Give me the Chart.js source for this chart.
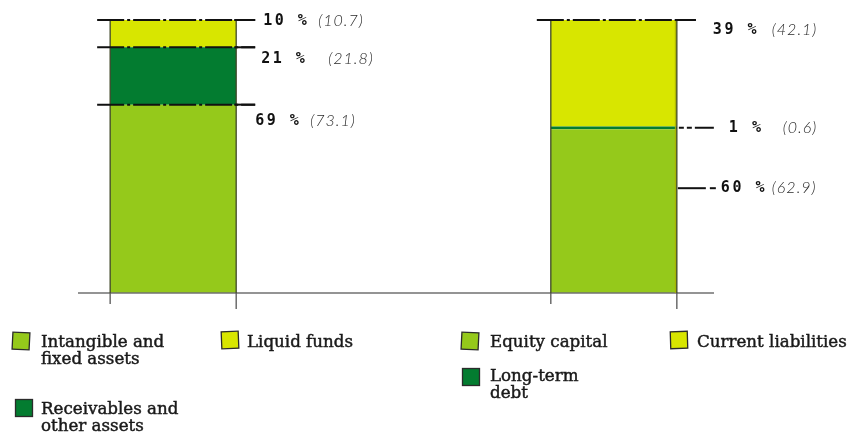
<!DOCTYPE html>
<html>
<head>
<meta charset="utf-8">
<script src="https://cdn.jsdelivr.net/npm/chart.js@4.4.1/dist/chart.umd.min.js"></script>
<style>
  html, body { margin: 0; padding: 0; background: #fff; }
  #wrap { position: relative; width: 859px; height: 433px; }
</style>
</head>
<body>
<div id="wrap"><canvas id="balance"></canvas></div>
<script>
// left column = assets, right column = equity and liabilities
// the empty middle category only keeps the gap between the two columns
const categories = ['Assets', '', 'Equity and liabilities'];

// share of balance sheet total in %, this year
const baseShare = [69, null, 60];
const middleShare = [21, null, 1];
const topShare = [10, null, 39];

// previous year, shown in brackets
const basePrev = ['73.1', null, '62.9'];
const middlePrev = ['21.8', null, '0.6'];
const topPrev = ['10.7', null, '42.1'];

const assetLabels = ['Intangible and\nfixed assets', 'Receivables and\nother assets', 'Liquid funds'];
const liabilityLabels = ['Equity capital', 'Long-term\ndebt', 'Current liabilities'];

const colours = ['#95c91b', '#037c30', '#d8e600'];

function line(ctx, x1, y1, x2, y2, colour, width, dash) {
  ctx.save();
  ctx.beginPath();
  ctx.strokeStyle = colour;
  ctx.lineWidth = width;
  ctx.setLineDash(dash || []);
  ctx.moveTo(x1, y1);
  ctx.lineTo(x2, y2);
  ctx.stroke();
  ctx.restore();
}

function pctLabel(ctx, value, prev, x, xPrev, yy) {
  ctx.save();
  ctx.textBaseline = 'middle';
  ctx.fillStyle = '#111';
  ctx.font = 'bold 15px "DejaVu Sans Mono"';
  ctx.letterSpacing = '2.5px';
  ctx.fillText(value + ' %', x, yy);
  ctx.fillStyle = '#2a2a2a';
  ctx.font = 'italic 300 16px Lato';
  ctx.letterSpacing = '1px';
  ctx.fillText('(' + prev + ')', xPrev, yy);
  ctx.restore();
}

// slab serif legend text, squeezed so "Liquid funds" is about 106px wide
const LEGEND_FONT = '16px "DejaVu Serif"';
function legendText(ctx, txt, x, yBase) {
  ctx.save();
  ctx.font = LEGEND_FONT;
  ctx.fillStyle = '#1a1a1a';
  ctx.strokeStyle = '#1a1a1a';
  ctx.lineWidth = 0.45;
  ctx.textBaseline = 'alphabetic';
  const sx = 106 / ctx.measureText('Liquid funds').width;
  txt.split('\n').forEach((r, i) => {
    ctx.save();
    ctx.translate(x, yBase + i * 17);
    ctx.scale(sx, 1);
    ctx.fillText(r, 0, 0);
    ctx.strokeText(r, 0, 0);
    ctx.restore();
  });
  ctx.restore();
}

function swatch(ctx, x, y, colour, angle) {
  ctx.save();
  ctx.translate(x + 9, y + 9);
  ctx.rotate(angle);
  ctx.fillStyle = colour;
  ctx.fillRect(-8.5, -8.5, 17, 17);
  ctx.strokeStyle = '#2b2b2b';
  ctx.lineWidth = 1.3;
  ctx.strokeRect(-8.5, -8.5, 17, 17);
  ctx.restore();
}

const balanceMarks = {
  id: 'balanceMarks',
  afterDatasetsDraw(chart) {
    const ctx = chart.ctx;
    const y = chart.scales.y;
    const area = chart.chartArea;
    const base = y.getPixelForValue(0);
    const top = y.getPixelForValue(100);
    const bar = i => {
      const el = chart.getDatasetMeta(0).data[i];
      return { l: el.x - el.width / 2, r: el.x + el.width / 2 };
    };
    const A = bar(0), L = bar(2);
    const dd = [27, 3, 3, 3];

    // baseline
    line(ctx, area.left + 15, base, area.right - 10, base, '#707070', 1.6);

    // column edges, running on below the baseline
    [A, L].forEach(b => {
      line(ctx, b.l, top, b.l, base, '#3f4727', 1.3);
      line(ctx, b.r, top, b.r, base, '#3f4727', 1.3);
      line(ctx, b.l, base, b.l, base + 11, '#555', 1.3);
      line(ctx, b.r, base, b.r, base + 16, '#555', 1.3);
    });
    // olive rim on the right column
    line(ctx, L.r - 1.5, top, L.r - 1.5, base, '#a9b200', 1);

    // assets column: boundary lines and labels
    const a1 = y.getPixelForValue(baseShare[0] + middleShare[0]);
    const a0 = y.getPixelForValue(baseShare[0]);
    [top, a1, a0].forEach(p => {
      line(ctx, A.l - 13, p, A.r + 19, p, '#111', 2, dd);
      line(ctx, A.r - 2, p, A.r + 19, p, '#111', 2);
    });
    pctLabel(ctx, topShare[0], topPrev[0], A.r + 27, A.r + 82, top + 1);
    pctLabel(ctx, middleShare[0], middlePrev[0], A.r + 25, A.r + 92, a1 + 12);
    pctLabel(ctx, baseShare[0], basePrev[0], A.r + 19, A.r + 74, a0 + 16);

    // equity and liabilities column
    const l1 = y.getPixelForValue(baseShare[2] + middleShare[2] / 2);
    const l0 = y.getPixelForValue(baseShare[2]);
    line(ctx, L.l - 14, top, L.r + 19, top, '#111', 2, dd);
    line(ctx, L.r - 2, top, L.r + 19, top, '#111', 2);
    line(ctx, L.r + 2, l1, L.r + 37, l1, '#111', 2, [5, 3, 5, 3, 20]);
    line(ctx, L.r + 1, l0 + 59, L.r + 29, l0 + 59, '#111', 2);
    line(ctx, L.r + 33, l0 + 59, L.r + 39, l0 + 59, '#111', 2);
    pctLabel(ctx, topShare[2], topPrev[2], L.r + 36, L.r + 95, top + 10);
    pctLabel(ctx, middleShare[2], middlePrev[2], L.r + 52, L.r + 106, l1);
    pctLabel(ctx, baseShare[2], basePrev[2], L.r + 44, L.r + 95, l0 + 59);

    // legend
    swatch(ctx, 12, 332, colours[0], 0.05);
    legendText(ctx, assetLabels[0], 41, 347);
    swatch(ctx, 15, 399, colours[1], 0.0);
    legendText(ctx, assetLabels[1], 41, 414);
    swatch(ctx, 221, 331, colours[2], -0.04);
    legendText(ctx, assetLabels[2], 247, 347);
    swatch(ctx, 461, 332, colours[0], 0.05);
    legendText(ctx, liabilityLabels[0], 490, 347);
    swatch(ctx, 462, 368, colours[1], 0.0);
    legendText(ctx, liabilityLabels[1], 490, 381);
    swatch(ctx, 670, 331, colours[2], -0.03);
    legendText(ctx, liabilityLabels[2], 697, 347);
  }
};

const seriesNames = assetLabels.map((a, i) => a.replace('\n', ' ') + ' / ' + liabilityLabels[i].replace('\n', ' '));

new Chart(document.getElementById('balance'), {
  type: 'bar',
  data: {
    labels: categories,
    datasets: [baseShare, middleShare, topShare].map((d, i) => ({
      label: seriesNames[i],
      data: d,
      backgroundColor: colours[i],
      borderWidth: 0,
      barPercentage: 0.572,
      categoryPercentage: 1
    }))
  },
  options: {
    responsive: true,
    maintainAspectRatio: false,
    animation: false,
    layout: { padding: { left: 63, right: 135, top: 20, bottom: 140 } },
    plugins: { legend: { display: false }, tooltip: { enabled: false } },
    scales: {
      x: { stacked: true, display: false },
      y: { stacked: true, display: false, min: 0, max: 100 }
    }
  },
  plugins: [balanceMarks]
});
</script>
</body>
</html>
